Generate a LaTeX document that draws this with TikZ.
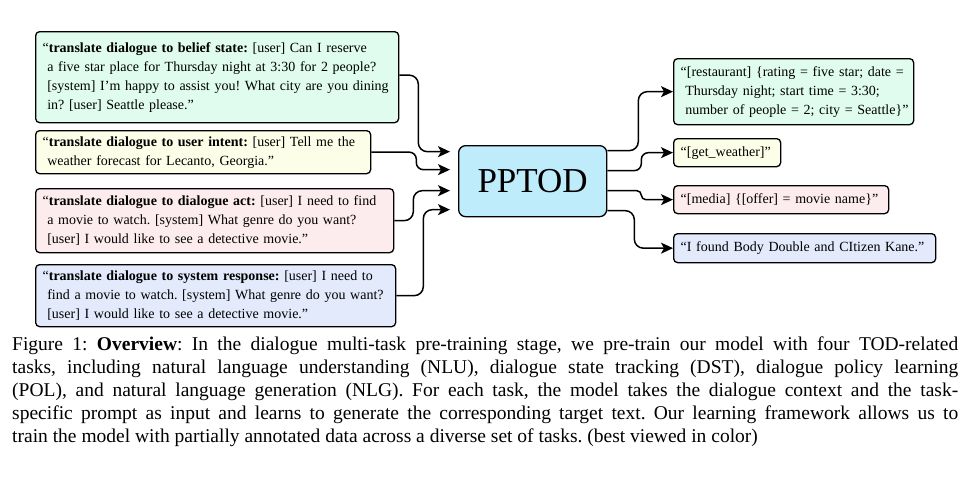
\documentclass[tikz,border=0pt]{standalone}
\usepackage{fontspec}
\setmainfont{Liberation Serif}
\usetikzlibrary{arrows.meta,calc}
\definecolor{bgreen}{HTML}{DFFCEE}
\definecolor{byellow}{HTML}{FDFEE8}
\definecolor{bpink}{HTML}{FDECEE}
\definecolor{bblue}{HTML}{E2EAFC}
\definecolor{bcyan}{HTML}{BEECFA}
\frenchspacing
\begin{document}
\begin{tikzpicture}[x=1pt,y=-1pt,
  box/.style={draw=black, line width=1.3pt, rounded corners=4pt, anchor=north west,
    inner xsep=7pt, inner ysep=0pt, align=left, font=\fontsize{14}{19}\selectfont\frenchspacing},
  conn/.style={line width=1.5pt, rounded corners=9pt, -{Stealth[length=12pt,width=11pt,inset=3pt]}},
  captxt/.style={anchor=base west, inner sep=0pt, font=\fontsize{19.5}{23}\selectfont\frenchspacing},
]
\useasboundingbox[fill=white] (0,0) rectangle (970,480);

% left input boxes
\node[box, fill=bgreen, minimum width=363pt, minimum height=91pt, text width=349pt] (b1) at (35,31)
 {\mbox{“\textbf{translate dialogue to belief state:} [user] Can I reserve}\\
 \mbox{ a five star place for Thursday night at 3:30 for 2 people?}\\
 \mbox{ [system] I'm happy to assist you! What city are you dining}\\
 \mbox{ in? [user] Seattle please.”}};
\node[box, fill=byellow, minimum width=335pt, minimum height=43pt, text width=321pt] (b2) at (35,130)
 {\mbox{“\textbf{translate dialogue to user intent:} [user] Tell me the}\\
 \mbox{ weather forecast for Lecanto, Georgia.”}};
\node[box, fill=bpink, minimum width=358pt, minimum height=64pt, text width=344pt] (b3) at (35,188)
 {\mbox{“\textbf{translate dialogue to dialogue act:} [user] I need to find}\\
 \mbox{ a movie to watch. [system] What genre do you want?}\\
 \mbox{ [user] I would like to see a detective movie.”}};
\node[box, fill=bblue, minimum width=360pt, minimum height=62pt, text width=346pt] (b4) at (35,264)
 {\mbox{“\textbf{translate dialogue to system response:} [user] I need to}\\
 \mbox{ find a movie to watch. [system] What genre do you want?}\\
 \mbox{ [user] I would like to see a detective movie.”}};

% model
\node[draw=black, line width=1.3pt, rounded corners=7pt, fill=bcyan, anchor=north west,
  minimum width=148pt, minimum height=71pt, font=\fontsize{35}{40}\selectfont] (pp) at (458,145) {PPTOD};

% right output boxes
\node[box, fill=bgreen, minimum width=240pt, minimum height=66pt, text width=226pt] (r1) at (673,58)
 {\mbox{“[restaurant] \{rating = five star; date =}\\
 \mbox{ Thursday night; start time = 3:30;}\\
 \mbox{ number of people = 2; city = Seattle\}”}};
\node[box, fill=byellow, minimum width=107pt, minimum height=28pt, text width=93pt] (r2) at (673,138)
 {\mbox{“[get\_weather]”}};
\node[box, fill=bpink, minimum width=215pt, minimum height=28pt, text width=201pt] (r3) at (673,185)
 {\mbox{“[media] \{[offer] = movie name\}”}};
\node[box, fill=bblue, minimum width=262pt, minimum height=29pt, text width=248pt] (r4) at (673,233)
 {\mbox{“I found Body Double and CItizen Kane.”}};

% connectors in
\draw[conn] ([yshift=2pt]b1.east) -- ++(19,0) |- ([xshift=-8pt,yshift=29.5pt]pp.west);
\draw[conn, rounded corners=7pt] (b2.east) -- ++(45,0) |- ([xshift=-8pt,yshift=11.5pt]pp.west);
\draw[conn] (b3.east) -- ++(19,0) |- ([xshift=-8pt,yshift=-9.5pt]pp.west);
\draw[conn] (b4.east) -- ++(27,0) |- ([xshift=-8pt,yshift=-28.5pt]pp.west);

% connectors out
\draw[conn] ([yshift=30.5pt]pp.east) -- ++(31,0) |- (r1.west);
\draw[conn, rounded corners=7pt] ([yshift=10.5pt]pp.east) -- ++(34,0) |- (r2.west);
\draw[conn, rounded corners=4.5pt] ([yshift=-9.5pt]pp.east) -- ++(34,0) |- (r3.west);
\draw[conn] ([yshift=-29.5pt]pp.east) -- ++(27,0) |- (r4.west);

% caption
\node[captxt] (c1) at (12,350) {\makebox[946pt][s]{Figure 1: \textbf{Overview}: In the dialogue multi-task pre-training stage, we pre-train our model with four TOD-related}};
\node[captxt] (c2) at (12,373) {\makebox[946pt][s]{tasks, including natural language understanding (NLU), dialogue state tracking (DST), dialogue policy learning}};
\node[captxt] (c3) at (12,396) {\makebox[946pt][s]{(POL), and natural language generation (NLG). For each task, the model takes the dialogue context and the task-}};
\node[captxt] (c4) at (12,419) {\makebox[946pt][s]{specific prompt as input and learns to generate the corresponding target text. Our learning framework allows us to}};
\node[captxt] (c5) at (12,442) {train the model with partially annotated data across a diverse set of tasks. (best viewed in color)};
\end{tikzpicture}
\end{document}
